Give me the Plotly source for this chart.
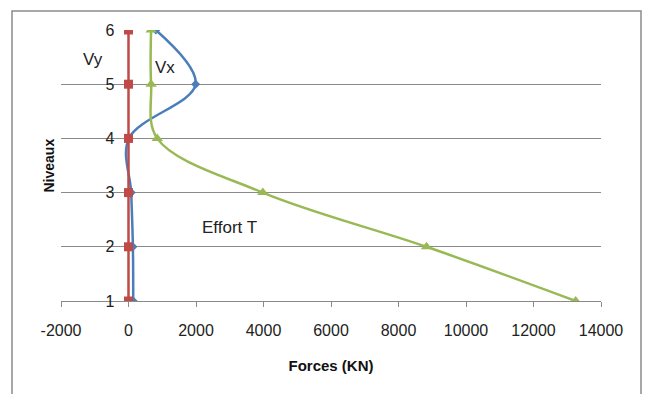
import plotly.graph_objects as go

levels = [1, 2, 3, 4, 5, 6]
vx = [140, 130, 80, 10, 1990, 810]
vy = [0, 0, 0, 0, 0, 0]
effort_t = [13250, 8830, 3980, 850, 670, 670]
x_ticks = [-2000, 0, 2000, 4000, 6000, 8000, 10000, 12000, 14000]
x_tick_text = ["-2000", "0", "2000", "4000", "6000", "8000", "10000", "12000", "14000"]

BLUE = "#4a7ebb"
RED = "#be4b48"
GREEN = "#98b954"
GRID = "#8a8a8a"
FONT = "Liberation Sans"

fig = go.Figure()
fig.add_trace(go.Scatter(x=vx, y=levels, mode="lines+markers", name="Vx",
                         line=dict(color=BLUE, width=2.5, shape="spline", smoothing=1.0),
                         marker=dict(symbol="diamond", size=7, color=BLUE)))
fig.add_trace(go.Scatter(x=effort_t, y=levels, mode="lines+markers", name="Effort T",
                         line=dict(color=GREEN, width=2.5, shape="spline", smoothing=1.0),
                         marker=dict(symbol="triangle-up", size=10, color=GREEN)))
fig.add_trace(go.Scatter(x=vy, y=levels, mode="lines+markers", name="Vy",
                         line=dict(color=RED, width=2.5),
                         marker=dict(symbol="square", size=9, color=RED)))

fig.add_annotation(x=-1050, y=5.45, text="Vy", showarrow=False,
                   xanchor="center", yanchor="middle",
                   font=dict(family=FONT, size=17, color="#222"))
fig.add_annotation(x=1080, y=5.3, text="Vx", showarrow=False,
                   xanchor="center", yanchor="middle",
                   font=dict(family=FONT, size=17, color="#222"))
fig.add_annotation(x=2980, y=2.35, text="Effort T", showarrow=False,
                   xanchor="center", yanchor="middle",
                   font=dict(family=FONT, size=17, color="#222"))
fig.add_annotation(xref="paper", yref="paper", x=(48 - 61) / 540, y=0.5,
                   xanchor="center", yanchor="middle",
                   text="<b>Niveaux</b>", textangle=-90, showarrow=False,
                   font=dict(family=FONT, size=14, color="#111"))

# outer chart border
fig.add_shape(type="rect", xref="paper", yref="paper",
              x0=(12 - 61) / 540, x1=(641 - 61) / 540,
              y0=(301 - 420) / 271, y1=1 + (30 - 11) / 271,
              line=dict(color="#8c8c8c", width=1.5), fillcolor="rgba(0,0,0,0)")

fig.update_layout(
    width=650, height=394,
    margin=dict(l=61, r=49, t=30, b=93),
    paper_bgcolor="white", plot_bgcolor="white",
    showlegend=False,
    font=dict(family=FONT, size=16, color="#222"),
    xaxis=dict(range=[-2000, 14000], tickvals=x_ticks, ticktext=x_tick_text,
               showgrid=False, zeroline=False,
               showline=True, linecolor=GRID, linewidth=1,
               ticks="outside", ticklen=5, tickcolor=GRID, ticklabelstandoff=10,
               title=dict(text="<b>Forces (KN)</b>", font=dict(family=FONT, size=15, color="#111"),
                          standoff=22)),
    yaxis=dict(range=[1, 6], tickvals=levels, showgrid=True, gridcolor=GRID, gridwidth=1,
               zeroline=False, showline=False, ticks="", anchor="free", position=0.125,
               ticklabelstandoff=14),
)

fig.write_html("out.html")
